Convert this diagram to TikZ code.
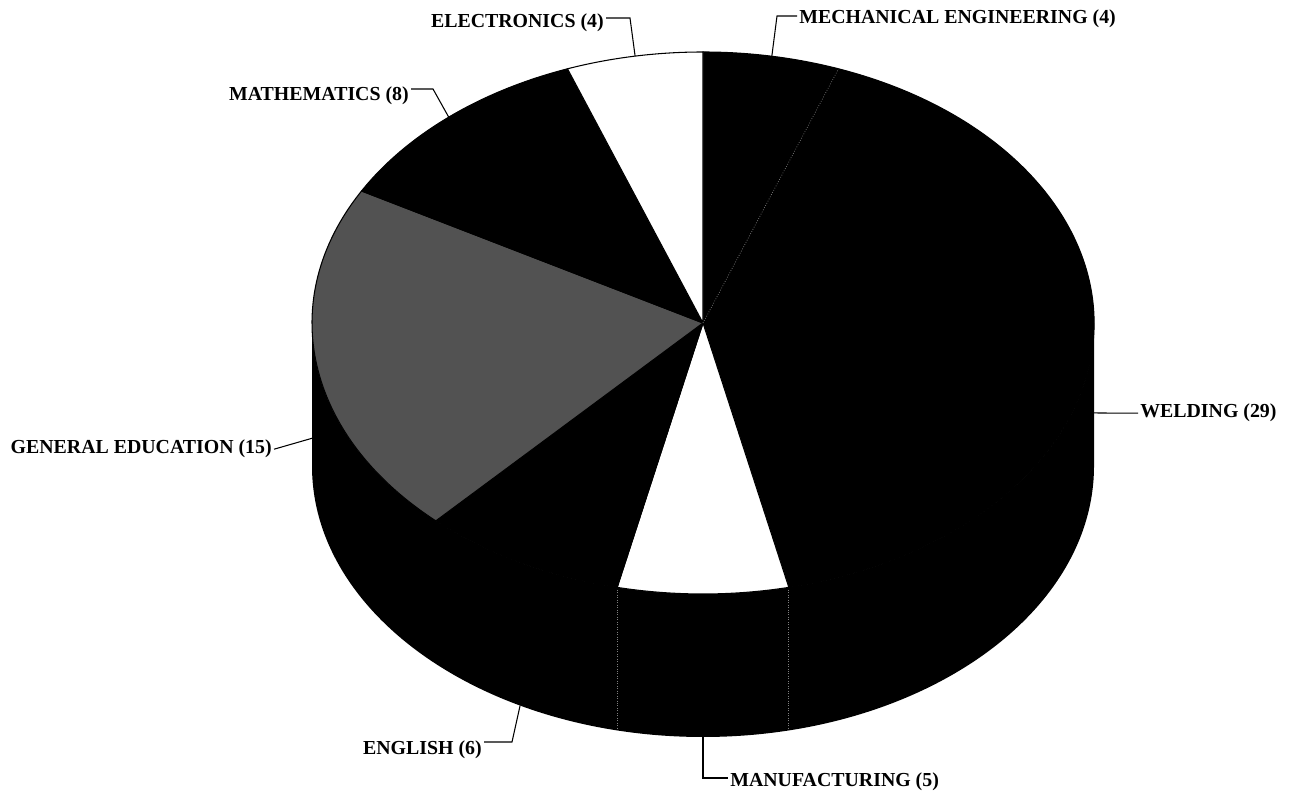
\documentclass[tikz,border=0pt]{standalone}
\usepackage{fontspec}
\setmainfont{Liberation Serif}

\begin{document}
\begin{tikzpicture}[x=0.02cm, y=0.02cm, semithick,
        lbl/.style={font=\bfseries\fontsize{11.3}{13}\selectfont, inner sep=1pt},
        leader/.style={line width=0.6pt},
        seam/.style={gray, densely dotted, line width=0.4pt}]
    \useasboundingbox (0,0) rectangle (1291,797);
    \begin{scope}[shift={(703,474)}]
        % side
        \fill[black] (180:391 and 271) -- ++(0,-143)
            arc[start angle=180, end angle=360, x radius=391, y radius=271] -- ++(0,143)
            arc[start angle=0, end angle=-180, x radius=391, y radius=271] -- cycle;
        \draw[seam] (-77.32:391 and 271) -- ++(0,-143) (-102.68:391 and 271) -- ++(0,-143);
        % top
        \foreach \a/\b/\c in {90/69.72/black, 69.72/-77.32/black, -77.32/-102.68/white,
                -102.68/-133.10/black, -133.10/-209.15/black!68, -209.15/-249.72/black,
                -249.72/-270/white}
            \filldraw[fill=\c, draw=black, line width=0.6pt] (0,0) -- (\a:391 and 271)
                arc[start angle=\a, end angle=\b, x radius=391, y radius=271] -- cycle;
        \draw[seam] (0,0) -- (69.72:391 and 271);
        \coordinate (pElec) at (100:391 and 271);
        \coordinate (pMech) at (79.86:391 and 271);
        \coordinate (pMath) at (130.57:391 and 271);
        \path (188.9:391 and 271) ++(0,-72) coordinate (pGen);
        \path (-3.8:391 and 271) ++(0,-72) coordinate (pWeld);
        \path (-117.89:391 and 271) ++(0,-143) coordinate (pEng);
        \coordinate (pManuf) at (0,-414);
    \end{scope}

    \node[lbl, anchor=base east] (elec) at (606,769) {ELECTRONICS (4)};
    \node[lbl, anchor=base west] (mech) at (797,773) {MECHANICAL ENGINEERING (4)};
    \node[lbl, anchor=base east] (math) at (411,696) {MATHEMATICS (8)};
    \node[lbl, anchor=base east] (gened) at (274,343) {GENERAL EDUCATION (15)};
    \node[lbl, anchor=base west] (weld) at (1138,379) {WELDING (29)};
    \node[lbl, anchor=base east] (eng) at (484,42) {ENGLISH (6)};
    \node[lbl, anchor=base west] (manuf) at (728,10) {MANUFACTURING (5)};

    \coordinate (bElec) at (630,779);
    \coordinate (bMech) at (777,781);
    \coordinate (bMath) at (433,708);
    \coordinate (bEng) at (512,55);
    \coordinate (bManuf) at (703,19);

    \draw[leader] (pElec) -- (bElec) -- (elec.east |- bElec);
    \draw[leader] (pMech) -- (bMech) -- (mech.west |- bMech);
    \draw[leader] (pMath) -- (bMath) -- (math.east |- bMath);
    \draw[leader] (pGen) -- (gened.east);
    \draw[leader] (pWeld) -- (weld.west);
    \draw[leader] (pEng) -- (bEng) -- (eng.east |- bEng);
    \draw[leader] (pManuf) -- (bManuf) -- (manuf.west |- bManuf);
\end{tikzpicture}
\end{document}
